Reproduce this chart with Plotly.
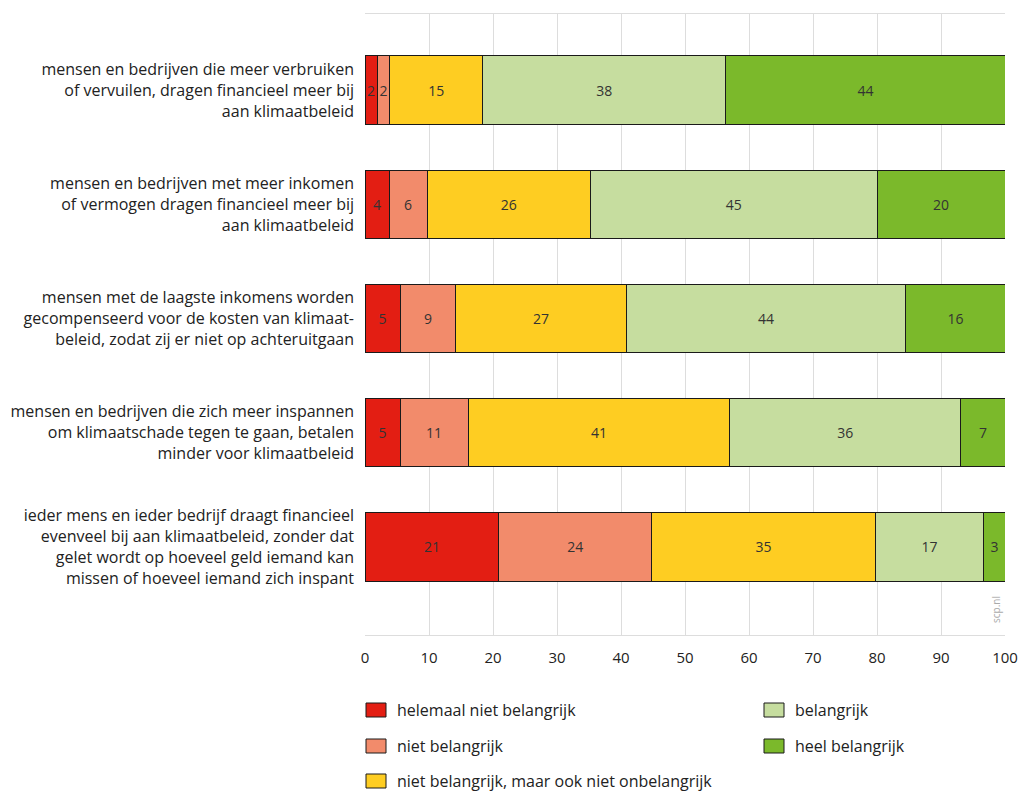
import plotly.graph_objects as go

categories = [
    "mensen en bedrijven die meer verbruiken<br>of vervuilen, dragen financieel meer bij<br>aan klimaatbeleid",
    "mensen en bedrijven met meer inkomen<br>of vermogen dragen financieel meer bij<br>aan klimaatbeleid",
    "mensen met de laagste inkomens worden<br>gecompenseerd voor de kosten van klimaat-<br>beleid, zodat zij er niet op achteruitgaan",
    "mensen en bedrijven die zich meer inspannen<br>om klimaatschade tegen te gaan, betalen<br>minder voor klimaatbeleid",
    "ieder mens en ieder bedrijf draagt financieel<br>evenveel bij aan klimaatbeleid, zonder dat<br>gelet wordt op hoeveel geld iemand kan<br>missen of hoeveel iemand zich inspant",
]
series_names = [
    "helemaal niet belangrijk",
    "niet belangrijk",
    "niet belangrijk, maar ook niet onbelangrijk",
    "belangrijk",
    "heel belangrijk",
]
helemaal_niet = [1.9, 3.75, 5.5, 5.5, 20.9]
niet = [2.0, 5.95, 8.7, 10.6, 23.9]
neutraal = [14.5, 25.5, 26.6, 40.9, 34.9]
belangrijk = [38.0, 44.8, 43.7, 36.1, 17.0]
heel = [43.6, 20.0, 15.5, 6.9, 3.3]
labels_helemaal_niet = ["2", "4", "5", "5", "21"]
labels_niet = ["2", "6", "9", "11", "24"]
labels_neutraal = ["15", "26", "27", "41", "35"]
labels_belangrijk = ["38", "45", "44", "36", "17"]
labels_heel = ["44", "20", "16", "7", "3"]
x_ticks = [0, 10, 20, 30, 40, 50, 60, 70, 80, 90, 100]

colors = ["#e31e13", "#f28b6b", "#fecd22", "#c6dd9f", "#7bb92b"]
values = [helemaal_niet, niet, neutraal, belangrijk, heel]
labels = [labels_helemaal_niet, labels_niet, labels_neutraal, labels_belangrijk, labels_heel]

FONT = "Open Sans"
W, H = 1019, 792
L, R, T, B = 365, 14, 14, 157

fig = go.Figure()
for name, vals, lab, col in zip(series_names, values, labels, colors):
    fig.add_trace(go.Bar(
        y=categories, x=vals, name=name, orientation="h",
        marker=dict(color=col, line=dict(color="#1a1a1a", width=1)),
        text=lab, textposition="inside", insidetextanchor="middle",
        textangle=0, textfont=dict(family=FONT, size=14, color="#333333"),
        width=0.6, showlegend=False, hoverinfo="x+name",
    ))

# manual legend (two columns, column-first)
pw, ph = W - L - R, H - T - B
def px(xp):
    return (xp - L) / pw
def py(yp):
    return (H - B - yp) / ph

legend_pos = [(366, 710), (366, 746), (366, 781), (764, 710), (764, 746)]
shapes = []
annotations = []
for (lx, ly), name, col in zip(legend_pos, series_names, colors):
    shapes.append(dict(type="rect", xref="paper", yref="paper",
                       x0=px(lx), x1=px(lx + 20), y0=py(ly + 7), y1=py(ly - 7),
                       fillcolor=col, line=dict(color="#1a1a1a", width=1)))
    annotations.append(dict(xref="paper", yref="paper", x=px(lx + 29), y=py(ly),
                            text=name, showarrow=False, xanchor="left", yanchor="middle",
                            font=dict(family=FONT, size=16, color="#222222")))
annotations.append(dict(xref="paper", yref="paper", x=px(996), y=py(610),
                        text="scp.nl", textangle=-90, showarrow=False,
                        xanchor="center", yanchor="middle",
                        font=dict(family=FONT, size=10, color="#aaaaaa")))

fig.update_layout(
    width=W, height=H, autosize=False,
    margin=dict(l=L, r=R, t=T, b=B, pad=0, autoexpand=False),
    barmode="stack", bargap=0.4,
    plot_bgcolor="white", paper_bgcolor="white",
    font=dict(family=FONT, size=16, color="#222222"),
    uniformtext=dict(minsize=14, mode="show"),
    shapes=shapes, annotations=annotations,
    xaxis=dict(range=[0, 100], tickvals=x_ticks, showgrid=True, gridcolor="#dddddd",
               gridwidth=1, zeroline=False, showline=True, linecolor="#dddddd",
               mirror=True, ticks="", tickfont=dict(family=FONT, size=15, color="#222222"),
               ticklabelstandoff=9, fixedrange=True, automargin=False),
    yaxis=dict(type="category", range=[4.772, -0.667], showgrid=False, zeroline=False,
               showline=False, ticks="", ticklabelstandoff=10, automargin=False,
               tickfont=dict(family=FONT, size=16, color="#222222"), fixedrange=True),
)

fig.write_html("out.html",
               config={"responsive": False, "displayModeBar": False},
               post_script="document.body.style.margin='0';document.body.style.overflow='hidden';")
